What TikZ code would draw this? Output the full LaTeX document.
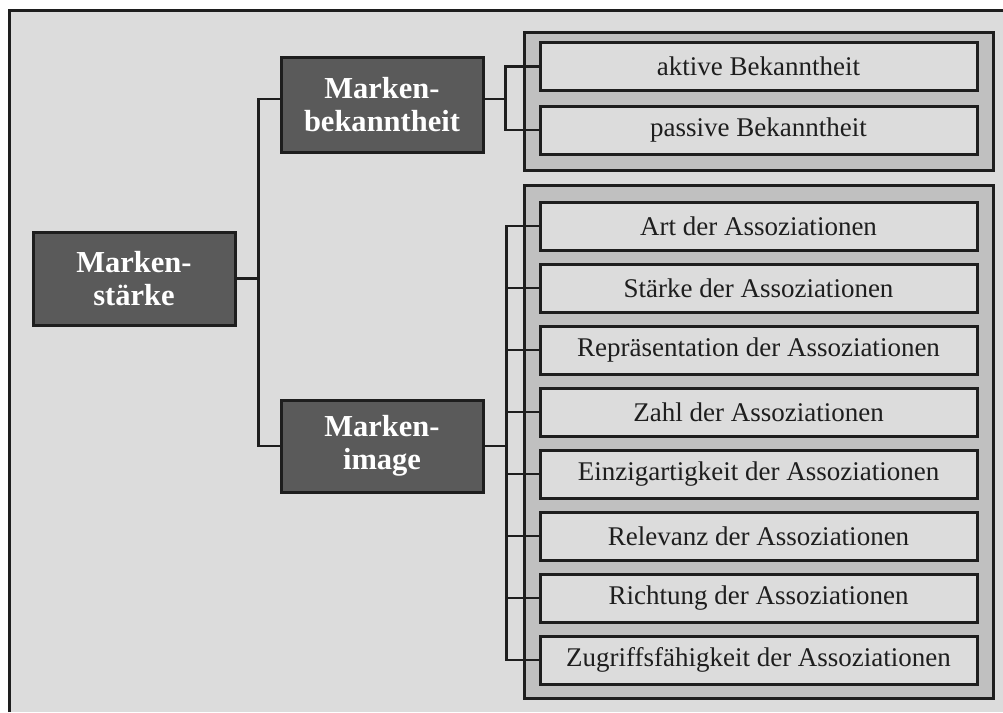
\documentclass[tikz,border=0pt]{standalone}
\usepackage{fontspec}
\setmainfont{Liberation Serif}
\definecolor{bgray}{HTML}{DCDCDC}
\definecolor{ggray}{HTML}{C0C0C0}
\definecolor{dgray}{HTML}{5A5A5A}
\definecolor{ink}{HTML}{1E1E1E}
\begin{document}
\begin{tikzpicture}[x=1pt,y=-1pt,
  headbox/.style={draw=ink, line width=3pt, fill=dgray, text=white,
    font=\fontsize{30.5}{33}\selectfont\bfseries, align=center,
    minimum width=202pt, inner sep=0pt},
  groupbox/.style={draw=ink, line width=3pt, fill=ggray, minimum width=469pt, inner sep=0pt},
  itembox/.style={draw=ink, line width=3pt, fill=bgray, text=ink,
    font=\fontsize{27}{30}\selectfont, minimum width=437pt, minimum height=48pt, inner sep=0pt},
  link/.style={draw=ink, line width=2.5pt}]
\useasboundingbox (0,0) rectangle (1003,712);
% page background and frame
\fill[white] (0,0) rectangle (1003,712);
\fill[bgray] (9,10) rectangle (1003,712);
\draw[ink, line width=3pt] (9,712) -- (9,10) -- (1003,10);

% grouping panels
\node[groupbox, minimum height=138pt] (g1) at (758.5,101) {};
\node[groupbox, minimum height=513pt] (g2) at (758.5,441.5) {};

% items: Markenbekanntheit
\node[itembox] (a1) at (758.5,66.5) {aktive Bekanntheit};
\node[itembox] (a2) at (758.5,130) {passive Bekanntheit};

% items: Markenimage
\node[itembox] (b1) at (758.5,226) {Art der Assoziationen};
\node[itembox] (b2) at (758.5,288) {Stärke der Assoziationen};
\node[itembox] (b3) at (758.5,350) {Repräsentation der Assoziationen};
\node[itembox] (b4) at (758.5,412) {Zahl der Assoziationen};
\node[itembox] (b5) at (758.5,474) {Einzigartigkeit der Assoziationen};
\node[itembox] (b6) at (758.5,536) {Relevanz der Assoziationen};
\node[itembox] (b7) at (758.5,598) {Richtung der Assoziationen};
\node[itembox] (b8) at (758.5,660) {Zugriffsfähigkeit der Assoziationen};

% main concepts
\node[headbox, minimum height=93pt] (st) at (134,278.5) {Marken-\\stärke};
\node[headbox, minimum height=95pt] (bk) at (382,104.5) {Marken-\\bekanntheit};
\node[headbox, minimum height=92pt] (im) at (382,446) {Marken-\\image};

% tree connectors
\draw[link] (st.east) -- ++(22,0) coordinate (j0);
\draw[link] ([yshift=5.5pt]bk.west) -| (j0) |- (im.west);

\draw[link] ([yshift=5.5pt]bk.east) -- ++(21,0) coordinate (j1);
\draw[link] (a1.west) -| (j1) |- (a2.west);

\draw[link] (im.east) -- ++(22,0) coordinate (j2);
\draw[link] (b1.west) -| (j2) |- (b8.west);
\foreach \n in {b2,b3,b4,b5,b6,b7}
  \draw[link] (\n.west) -- (\n.west -| j2);
\end{tikzpicture}
\end{document}
